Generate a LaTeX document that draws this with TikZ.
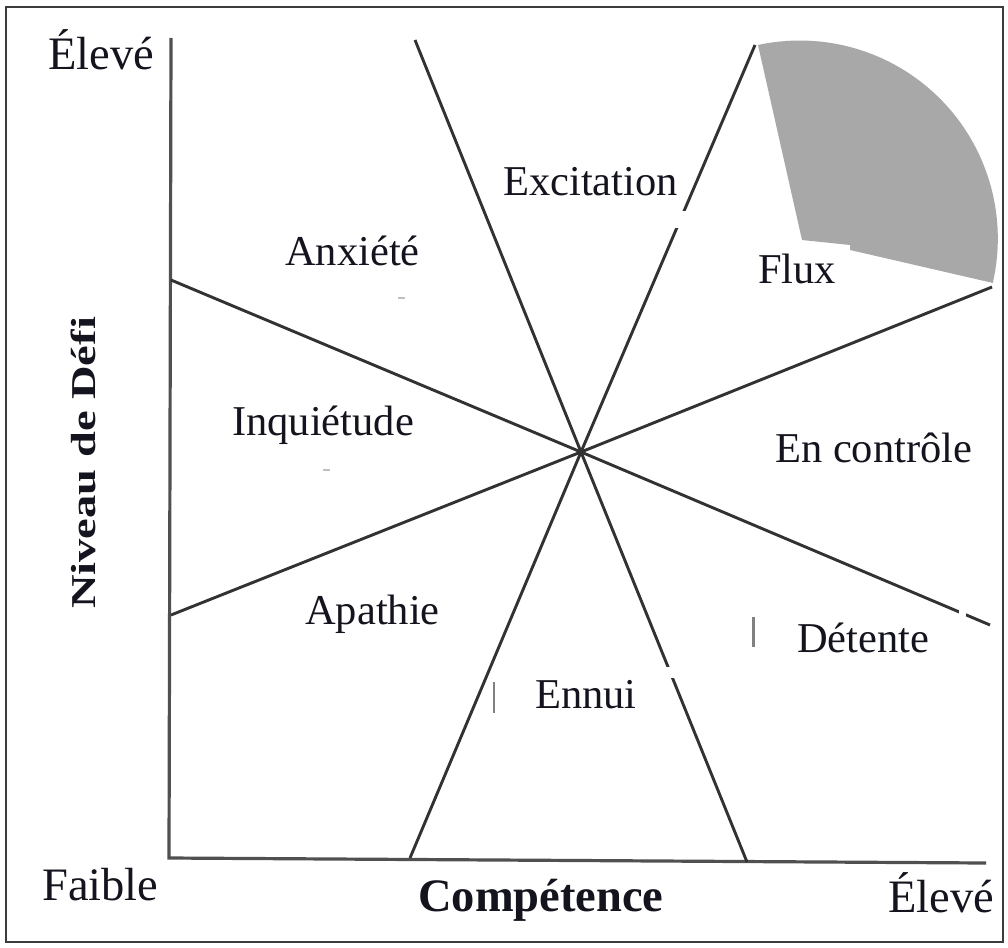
\documentclass[tikz,border=0pt]{standalone}
\usepackage{fontspec}
\setmainfont{Liberation Serif}
\usepackage{graphicx}
\definecolor{txt}{RGB}{20,20,30}
\definecolor{linegray}{RGB}{50,50,50}
\definecolor{axisgray}{RGB}{80,80,80}
\definecolor{framegray}{RGB}{60,60,60}
\definecolor{sectorgray}{RGB}{168,168,168}
\begin{document}
\begin{tikzpicture}[x=1pt,y=1pt,
  sepline/.style={draw=linegray, line width=2.9pt, line join=round},
  axisline/.style={draw=axisgray, line width=3.2pt, line join=miter},
  region/.style={font=\fontsize{42.5}{50}\selectfont, anchor=base west, inner sep=0pt, text=txt},
  axlab/.style={font=\fontsize{46.5}{55}\selectfont, anchor=base west, inner sep=0pt, text=txt},
  speck/.style={draw=gray, line width=2.2pt},
]
\useasboundingbox (0,0) rectangle (1008,-947);
\draw[draw=framegray, line width=2pt] (6,-7) rectangle (1003,-942);

% flow sector
\fill[sectorgray] (993,-283) -- (850,-250) -- (850,-245) -- (802,-240) -- (758,-45)
  arc[start angle=102.2, end angle=-12.6, radius=198] -- cycle;

% axes
\coordinate (ytop) at (171,-38);
\coordinate (origin) at (169,-858);
\coordinate (xend) at (986,-863);
\draw[axisline] (ytop) -- (origin) -- (xend);

% separating lines through the centre
\coordinate (c) at (581,-452);
\coordinate (a1) at (415,-40);  \coordinate (a2) at (747,-862);
\coordinate (b1) at (755,-45);  \coordinate (b2) at (410,-858);
\coordinate (d1) at (171,-280); \coordinate (d2) at (990,-625);
\coordinate (e1) at (171,-615); \coordinate (e2) at (992,-287);
\draw[sepline] (a1) -- (c) -- (a2);
\draw[sepline] (b1) -- (c) -- (b2);
\draw[sepline] (d1) -- (c) -- (d2);
\draw[sepline] (e1) -- (c) -- (e2);
\fill[linegray] (c) circle (3.4);

% white gaps left by label boxes
\fill[white] (672,-211) rectangle (692,-228);
\fill[white] (662,-667) rectangle (682,-678);
\fill[white] (959,-600) rectangle (966,-625);

% small scan marks
\draw[speck] (494,-682) -- (494,-713);
\draw[speck, line width=3pt] (753,-617) -- (753,-647);
\draw[draw=lightgray, line width=1.2pt] (398,-298) -- (405,-298);
\draw[draw=lightgray, line width=1.2pt] (323,-470) -- (330,-470);

% axis labels
\node[axlab] (hiY) at (48,-70) {Élevé};
\node[axlab] (lo) at (42,-900) {Faible};
\node[axlab, font=\fontsize{46.5}{55}\selectfont\bfseries] (comp) at (418,-911) {Compétence};
\node[axlab] (hiX) at (888,-912) {Élevé};
\node[rotate=90, anchor=base, inner sep=0pt, text=txt] (ylab) at (95,-463)
  {\fontsize{46.5}{55}\selectfont\bfseries\scalebox{1}[0.75]{Niveau de Défi}};

% region labels
\node[region] (excit) at (503,-195) {Excitation};
\node[region] (anx) at (285,-265) {Anxiété};
\node[region] (flux) at (758,-283) {Flux};
\node[region] (inq) at (232,-435) {Inquiétude};
\node[region] (ctrl) at (775,-462) {En contrôle};
\node[region] (apa) at (305,-624) {Apathie};
\node[region] (det) at (797,-652) {Détente};
\node[region] (ennui) at (535,-708) {Ennui};
\end{tikzpicture}
\end{document}
